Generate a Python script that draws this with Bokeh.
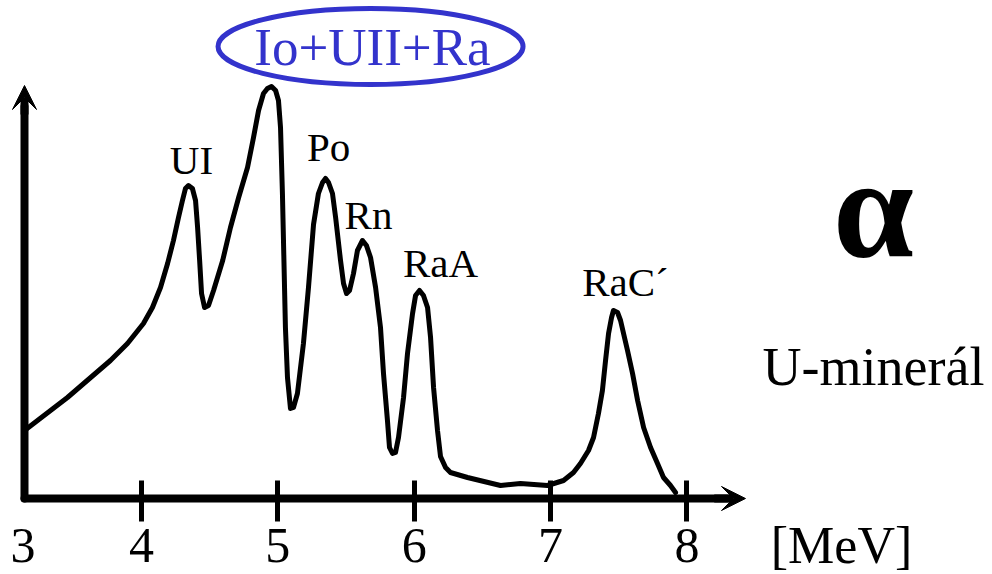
from bokeh.plotting import figure
from bokeh.models import Arrow, VeeHead, FixedTicker, Range1d
from bokeh.core.properties import value
from bokeh.embed import file_html
from bokeh.resources import INLINE

# ---- data (alpha spectrum of a U-mineral) ----
ENERGY = [3.143, 3.458, 3.773, 3.898, 4.015, 4.081, 4.140, 4.192, 4.235, 4.272,
          4.301, 4.323, 4.345, 4.374, 4.397, 4.412, 4.427, 4.441, 4.463, 4.492,
          4.529, 4.596, 4.653, 4.713, 4.778, 4.822, 4.859, 4.895, 4.924, 4.954,
          4.984, 5.005, 5.020, 5.034, 5.056, 5.071, 5.093, 5.115, 5.144, 5.188,
          5.225, 5.262, 5.298, 5.328, 5.350, 5.372, 5.401, 5.424, 5.460, 5.482,
          5.504, 5.526, 5.555, 5.584, 5.621, 5.650, 5.680, 5.717, 5.753, 5.775,
          5.804, 5.819, 5.841, 5.863, 5.885, 5.922, 5.951, 5.988, 6.010, 6.039,
          6.068, 6.098, 6.120, 6.142, 6.171, 6.193, 6.230, 6.266, 6.391, 6.633,
          6.779, 6.977, 7.095, 7.168, 7.219, 7.278, 7.315, 7.351, 7.380, 7.403,
          7.425, 7.447, 7.461, 7.491, 7.513, 7.535, 7.564, 7.601, 7.638, 7.682,
          7.733, 7.784, 7.828, 7.879, 7.916]
COUNTS = [17.0, 25.25, 34.5, 38.75, 43.75, 47.75, 52.75, 58.75, 64.5, 70.25,
          74.5, 77.5, 78.25, 77.5, 74.5, 67.75, 59.5, 51.25, 47.75, 48.25,
          52.0, 59.5, 67.75, 75.25, 82.75, 90.25, 97.0, 101.25, 102.5, 103.0,
          102.0, 99.5, 92.75, 76.25, 42.75, 30.25, 22.5, 22.75, 26.25, 38.75,
          52.75, 68.5, 76.25, 79.0, 80.0, 79.0, 76.25, 70.25, 59.5, 53.75,
          51.25, 52.0, 56.25, 62.0, 64.5, 63.25, 60.25, 52.75, 42.75, 31.25,
          19.5, 12.75, 11.25, 11.5, 15.25, 25.25, 36.25, 46.25, 50.75, 52.0,
          50.75, 47.75, 40.25, 27.75, 17.0, 10.5, 7.75, 6.5, 5.25, 3.25,
          3.75, 3.25, 4.5, 6.5, 8.75, 12.0, 15.25, 21.25, 27.0, 34.5,
          41.25, 45.25, 47.0, 46.5, 44.5, 41.25, 37.0, 31.25, 24.5, 17.75,
          12.75, 8.75, 5.25, 3.25, 1.5]
PEAK_NAMES = ["UI", "Po", "Rn", "RaA", "RaC\u00b4"]
GROUP_NAME = "Io+UII+Ra"
TICK_VALUES = [4, 5, 6, 7, 8]
ORIGIN_LABEL = "3"
UNIT_LABEL = "[MeV]"
TITLE_SYMBOL = "\u03b1"
SUBTITLE = "U-miner\u00e1l"

FONT = value("Liberation Serif")
BLUE = "#3333cc"

X0 = 3.143
p = figure(width=992, height=574, output_backend="svg", toolbar_location=None,
           x_range=Range1d(2.967, 10.24), y_range=Range1d(-19, 124.5),
           min_border_left=0, min_border_right=0, min_border_top=0,
           min_border_bottom=0, background_fill_color="white",
           border_fill_color="white", outline_line_color=None)
p.xgrid.visible = False
p.ygrid.visible = False

xa = p.xaxis[0]
xa.fixed_location = 0
xa.ticker = FixedTicker(ticks=TICK_VALUES)
xa.bounds = (X0, 8.30)
xa.axis_line_width = 8
xa.axis_line_cap = "round"
xa.major_tick_line_width = 5
xa.major_tick_in = 18
xa.major_tick_out = 23
xa.minor_tick_line_color = None
xa.major_label_text_font = "Liberation Serif"
xa.major_label_text_font_size = "50px"
xa.major_label_text_color = "black"
xa.major_label_standoff = 7

ya = p.yaxis[0]
ya.fixed_location = X0
ya.ticker = FixedTicker(ticks=[])
ya.bounds = (0, 98)
ya.axis_line_width = 8
ya.axis_line_cap = "round"
ya.major_tick_in = 0
ya.major_tick_out = 0
ya.minor_tick_line_color = None
ya.major_label_text_font_size = "0px"

# arrow heads of the axes
p.add_layout(Arrow(end=VeeHead(size=24, fill_color="black", line_color="black"),
                   x_start=8.20, y_start=0, x_end=8.429, y_end=0,
                   line_width=8, line_color="black"))
p.add_layout(Arrow(end=VeeHead(size=24, fill_color="black", line_color="black"),
                   x_start=X0, y_start=96, x_end=X0, y_end=103.25,
                   line_width=8, line_color="black"))

# spectrum
p.line(ENERGY, COUNTS, line_width=5, line_color="black", line_join="round", line_cap="round")

# peak labels
p.text(x=[4.367, 5.372, 5.665, 6.193, 7.549], y=[84.75, 88.0, 71.0, 59.0, 54.25],
       text=PEAK_NAMES, text_font=FONT, text_font_size="41px",
       text_align="center", text_baseline="alphabetic", text_color="black")

# group label in blue ellipse
p.ellipse(x=[5.680], y=[113.0], width=305, height=76, width_units="screen",
          height_units="screen", fill_color=None, line_color=BLUE, line_width=5)
p.text(x=[5.694], y=[113.0], text=[GROUP_NAME], text_font=FONT, text_font_size="53px",
       text_align="center", text_baseline="alphabetic", text_color=BLUE)

# right side texts
p.text(x=[9.367], y=[72.75], text=[TITLE_SYMBOL], text_font=FONT, text_font_size="145px",
       text_font_style="bold",
       text_align="center", text_baseline="alphabetic", text_color="black")
p.text(x=[9.367], y=[33.0], text=[SUBTITLE], text_font=FONT, text_font_size="54px",
       text_align="center", text_baseline="alphabetic", text_color="black")

# origin label and unit label below the axis
p.text(x=[3.132], y=[-11.75], text=[ORIGIN_LABEL], text_font=FONT, text_font_size="50px",
       text_align="center", text_baseline="alphabetic", text_color="black")
p.text(x=[9.133], y=[-11.75], text=[UNIT_LABEL], text_font=FONT, text_font_size="52px",
       text_align="center", text_baseline="alphabetic", text_color="black")

open("out.html", "w").write(file_html(p, INLINE))
